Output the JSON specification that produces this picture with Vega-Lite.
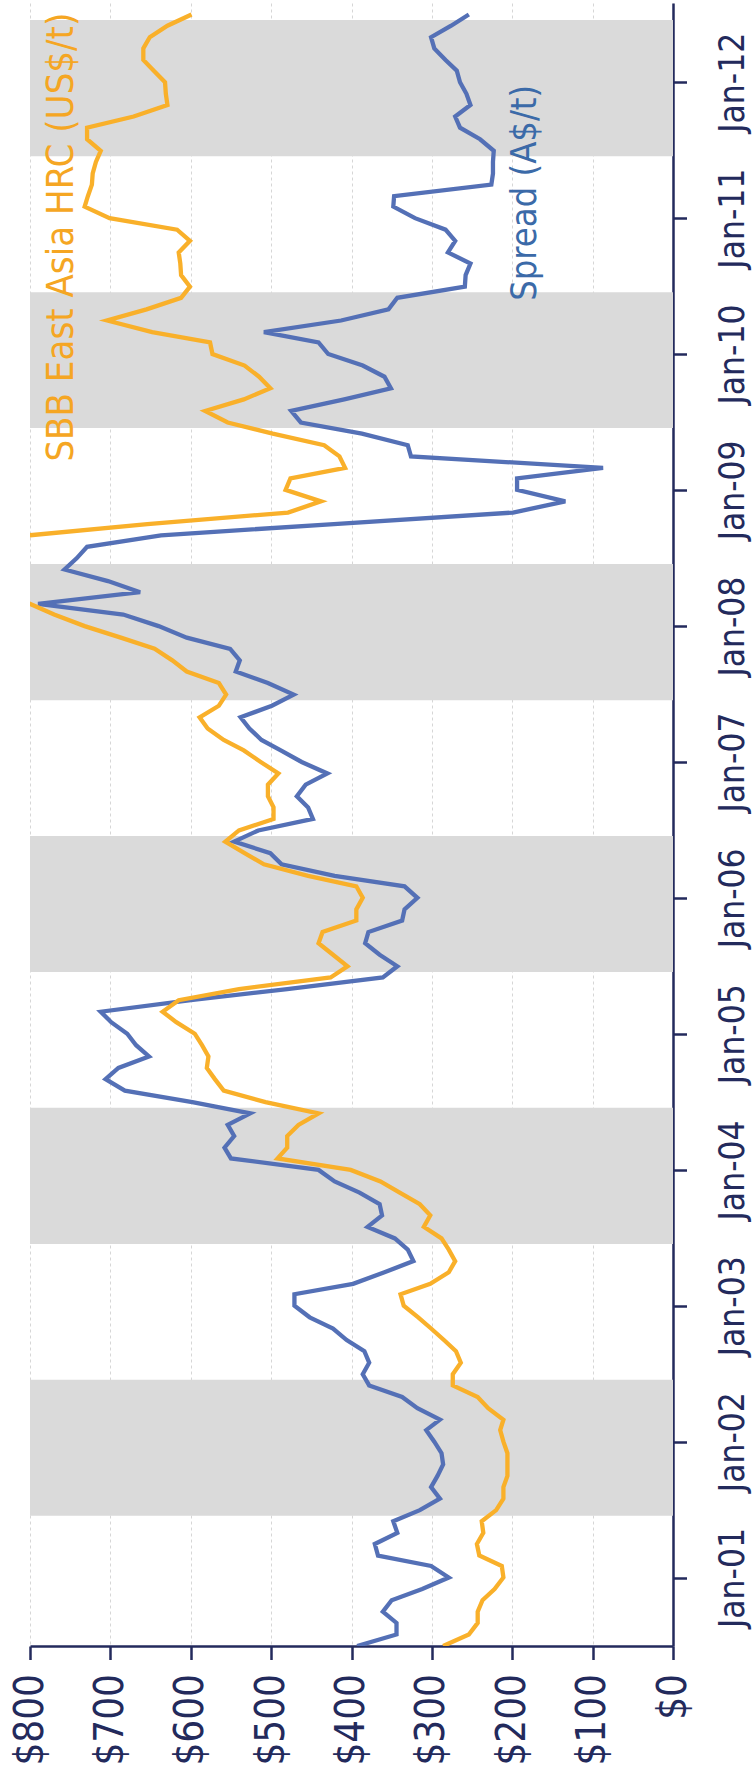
{
  "$schema": "https://vega.github.io/schema/vega-lite/v6.json",
  "width": 643,
  "height": 1643,
  "autosize": {"type": "none"},
  "padding": {"left": 30, "top": 3, "right": 79, "bottom": 128},
  "background": "white",
  "config": {"view": {"stroke": null}, "font": "DejaVu Sans Condensed, Liberation Sans, sans-serif"},
  "datasets": {
    "bands": [
      {"s": "2001/06/16", "e": "2002/06/16"},
      {"s": "2003/06/16", "e": "2004/06/16"},
      {"s": "2005/06/16", "e": "2006/06/16"},
      {"s": "2007/06/16", "e": "2008/06/16"},
      {"s": "2009/06/16", "e": "2010/06/16"},
      {"s": "2011/06/16", "e": "2012/06/16"}
    ],
    "m": [
      {"d": "2000/07/01", "s": 393, "h": 286},
      {"d": "2000/08/01", "s": 344, "h": 254},
      {"d": "2000/09/01", "s": 344, "h": 243},
      {"d": "2000/10/01", "s": 361, "h": 243},
      {"d": "2000/11/01", "s": 350, "h": 237},
      {"d": "2000/12/01", "s": 312, "h": 222},
      {"d": "2001/01/01", "s": 279, "h": 211},
      {"d": "2001/02/01", "s": 301, "h": 213},
      {"d": "2001/03/01", "s": 367, "h": 241},
      {"d": "2001/04/01", "s": 371, "h": 244},
      {"d": "2001/05/01", "s": 343, "h": 236},
      {"d": "2001/06/01", "s": 348, "h": 238},
      {"d": "2001/07/01", "s": 315, "h": 220},
      {"d": "2001/08/01", "s": 290, "h": 211},
      {"d": "2001/09/01", "s": 301, "h": 211},
      {"d": "2001/10/01", "s": 293, "h": 206},
      {"d": "2001/11/01", "s": 286, "h": 206},
      {"d": "2001/12/01", "s": 288, "h": 206},
      {"d": "2002/01/01", "s": 297, "h": 211},
      {"d": "2002/02/01", "s": 307, "h": 215},
      {"d": "2002/03/01", "s": 290, "h": 211},
      {"d": "2002/04/01", "s": 318, "h": 230},
      {"d": "2002/05/01", "s": 337, "h": 243},
      {"d": "2002/06/01", "s": 378, "h": 274},
      {"d": "2002/07/01", "s": 386, "h": 274},
      {"d": "2002/08/01", "s": 378, "h": 264},
      {"d": "2002/09/01", "s": 384, "h": 270},
      {"d": "2002/10/01", "s": 406, "h": 285},
      {"d": "2002/11/01", "s": 423, "h": 301},
      {"d": "2002/12/01", "s": 452, "h": 317},
      {"d": "2003/01/01", "s": 471, "h": 335},
      {"d": "2003/02/01", "s": 471, "h": 339},
      {"d": "2003/03/01", "s": 398, "h": 302},
      {"d": "2003/04/01", "s": 359, "h": 279},
      {"d": "2003/05/01", "s": 323, "h": 271},
      {"d": "2003/06/01", "s": 330, "h": 279},
      {"d": "2003/07/01", "s": 346, "h": 288},
      {"d": "2003/08/01", "s": 380, "h": 310},
      {"d": "2003/09/01", "s": 362, "h": 302},
      {"d": "2003/10/01", "s": 365, "h": 315},
      {"d": "2003/11/01", "s": 390, "h": 340},
      {"d": "2003/12/01", "s": 421, "h": 364},
      {"d": "2004/01/01", "s": 441, "h": 401},
      {"d": "2004/02/01", "s": 550, "h": 492},
      {"d": "2004/03/01", "s": 558, "h": 480},
      {"d": "2004/04/01", "s": 546, "h": 480},
      {"d": "2004/05/01", "s": 554, "h": 466},
      {"d": "2004/06/01", "s": 526, "h": 441},
      {"d": "2004/07/01", "s": 598, "h": 507},
      {"d": "2004/08/01", "s": 682, "h": 559},
      {"d": "2004/09/01", "s": 706, "h": 570},
      {"d": "2004/10/01", "s": 690, "h": 580},
      {"d": "2004/11/01", "s": 652, "h": 578},
      {"d": "2004/12/01", "s": 668, "h": 586},
      {"d": "2005/01/01", "s": 679, "h": 595},
      {"d": "2005/02/01", "s": 699, "h": 618},
      {"d": "2005/03/01", "s": 712, "h": 635},
      {"d": "2005/04/01", "s": 600, "h": 615},
      {"d": "2005/05/01", "s": 480, "h": 540},
      {"d": "2005/06/01", "s": 361, "h": 426},
      {"d": "2005/07/01", "s": 343, "h": 405},
      {"d": "2005/08/01", "s": 365, "h": 423},
      {"d": "2005/09/01", "s": 383, "h": 441},
      {"d": "2005/10/01", "s": 379, "h": 436},
      {"d": "2005/11/01", "s": 337, "h": 394},
      {"d": "2005/12/01", "s": 334, "h": 394},
      {"d": "2006/01/01", "s": 318, "h": 386},
      {"d": "2006/02/01", "s": 334, "h": 394},
      {"d": "2006/03/01", "s": 421, "h": 454},
      {"d": "2006/04/01", "s": 487, "h": 509},
      {"d": "2006/05/01", "s": 501, "h": 533},
      {"d": "2006/06/01", "s": 546, "h": 557},
      {"d": "2006/07/01", "s": 516, "h": 540},
      {"d": "2006/08/01", "s": 448, "h": 497},
      {"d": "2006/09/01", "s": 454, "h": 497},
      {"d": "2006/10/01", "s": 468, "h": 504},
      {"d": "2006/11/01", "s": 457, "h": 504},
      {"d": "2006/12/01", "s": 430, "h": 491},
      {"d": "2007/01/01", "s": 462, "h": 513},
      {"d": "2007/02/01", "s": 488, "h": 534},
      {"d": "2007/03/01", "s": 512, "h": 559},
      {"d": "2007/04/01", "s": 527, "h": 579},
      {"d": "2007/05/01", "s": 538, "h": 589},
      {"d": "2007/06/01", "s": 499, "h": 565},
      {"d": "2007/07/01", "s": 472, "h": 556},
      {"d": "2007/08/01", "s": 504, "h": 565},
      {"d": "2007/09/01", "s": 544, "h": 605},
      {"d": "2007/10/01", "s": 539, "h": 623},
      {"d": "2007/11/01", "s": 551, "h": 645},
      {"d": "2007/12/01", "s": 605, "h": 687},
      {"d": "2008/01/01", "s": 640, "h": 732},
      {"d": "2008/02/01", "s": 684, "h": 770},
      {"d": "2008/03/01", "s": 790, "h": 800},
      {"d": "2008/04/01", "s": 663, "h": 880},
      {"d": "2008/05/01", "s": 703, "h": 960},
      {"d": "2008/06/01", "s": 757, "h": 1030},
      {"d": "2008/07/01", "s": 742, "h": 1050},
      {"d": "2008/08/01", "s": 729, "h": 980},
      {"d": "2008/09/01", "s": 637, "h": 800},
      {"d": "2008/10/01", "s": 422, "h": 654},
      {"d": "2008/11/01", "s": 199, "h": 479},
      {"d": "2008/12/01", "s": 134, "h": 438},
      {"d": "2009/01/01", "s": 194, "h": 482},
      {"d": "2009/02/01", "s": 194, "h": 476},
      {"d": "2009/03/01", "s": 87, "h": 408},
      {"d": "2009/04/01", "s": 326, "h": 415},
      {"d": "2009/05/01", "s": 330, "h": 434},
      {"d": "2009/06/01", "s": 387, "h": 498},
      {"d": "2009/07/01", "s": 463, "h": 554},
      {"d": "2009/08/01", "s": 475, "h": 582},
      {"d": "2009/09/01", "s": 409, "h": 534},
      {"d": "2009/10/01", "s": 351, "h": 501},
      {"d": "2009/11/01", "s": 359, "h": 515},
      {"d": "2009/12/01", "s": 386, "h": 533},
      {"d": "2010/01/01", "s": 429, "h": 573},
      {"d": "2010/02/01", "s": 441, "h": 576},
      {"d": "2010/03/01", "s": 509, "h": 648},
      {"d": "2010/04/01", "s": 413, "h": 704},
      {"d": "2010/05/01", "s": 354, "h": 655},
      {"d": "2010/06/01", "s": 343, "h": 612},
      {"d": "2010/07/01", "s": 259, "h": 601},
      {"d": "2010/08/01", "s": 258, "h": 612},
      {"d": "2010/09/01", "s": 252, "h": 613},
      {"d": "2010/10/01", "s": 280, "h": 615},
      {"d": "2010/11/01", "s": 271, "h": 601},
      {"d": "2010/12/01", "s": 283, "h": 617},
      {"d": "2011/01/01", "s": 321, "h": 701},
      {"d": "2011/02/01", "s": 348, "h": 732},
      {"d": "2011/03/01", "s": 347, "h": 728},
      {"d": "2011/04/01", "s": 226, "h": 723},
      {"d": "2011/05/01", "s": 224, "h": 722},
      {"d": "2011/06/01", "s": 224, "h": 718},
      {"d": "2011/07/01", "s": 223, "h": 712},
      {"d": "2011/08/01", "s": 240, "h": 729},
      {"d": "2011/09/01", "s": 265, "h": 729},
      {"d": "2011/10/01", "s": 271, "h": 671},
      {"d": "2011/11/01", "s": 252, "h": 629},
      {"d": "2011/12/01", "s": 257, "h": 631},
      {"d": "2012/01/01", "s": 265, "h": 632},
      {"d": "2012/02/01", "s": 269, "h": 646},
      {"d": "2012/03/01", "s": 283, "h": 659},
      {"d": "2012/04/01", "s": 297, "h": 659},
      {"d": "2012/05/01", "s": 301, "h": 651},
      {"d": "2012/06/01", "s": 276, "h": 629},
      {"d": "2012/07/01", "s": 254, "h": 599}
    ]
  },
  "layer": [
    {
      "data": {"name": "bands"},
      "mark": {"type": "rect", "color": "#dadada"},
      "encoding": {
        "y": {
          "field": "s",
          "type": "temporal",
          "scale": {"domain": [{"year": 2000, "month": 7, "date": 1}, {"year": 2012, "month": 8, "date": 1}]},
          "axis": {
            "orient": "right",
            "title": null,
            "values": [
              {"year": 2001, "month": 1, "date": 1}, {"year": 2002, "month": 1, "date": 1},
              {"year": 2003, "month": 1, "date": 1}, {"year": 2004, "month": 1, "date": 1},
              {"year": 2005, "month": 1, "date": 1}, {"year": 2006, "month": 1, "date": 1},
              {"year": 2007, "month": 1, "date": 1}, {"year": 2008, "month": 1, "date": 1},
              {"year": 2009, "month": 1, "date": 1}, {"year": 2010, "month": 1, "date": 1},
              {"year": 2011, "month": 1, "date": 1}, {"year": 2012, "month": 1, "date": 1}
            ],
            "format": "%b-%y",
            "grid": false,
            "labelAngle": 270,
            "labelAlign": "center",
            "labelBaseline": "top",
            "labelPadding": 29,
            "labelFont": "DejaVu Sans Condensed, Liberation Sans, sans-serif",
            "labelFontSize": 35,
            "labelColor": "#232a5c",
            "labelOverlap": false,
            "labelFlush": false,
            "tickSize": 13.5,
            "tickWidth": 2.5,
            "tickColor": "#232a5c",
            "domainColor": "#232a5c",
            "domainWidth": 2.5
          }
        },
        "y2": {"field": "e"},
        "x": {
          "datum": 800,
          "type": "quantitative",
          "scale": {"domain": [0, 800], "reverse": true, "nice": false, "zero": true},
          "axis": {
            "orient": "bottom",
            "title": null,
            "values": [0, 100, 200, 300, 400, 500, 600, 700, 800],
            "format": "$.0f",
            "grid": true,
            "gridColor": "#d6d6d6",
            "gridDash": [3, 3],
            "gridWidth": 1,
            "labelAngle": 270,
            "labelAlign": "right",
            "labelBaseline": "middle",
            "labelPadding": 14,
            "labelFont": "DejaVu Sans Condensed, Liberation Sans, sans-serif",
            "labelFontSize": 40,
            "labelColor": "#232a5c",
            "labelOverlap": false,
            "labelFlush": false,
            "tickSize": 13.5,
            "tickWidth": 2.5,
            "tickColor": "#232a5c",
            "domainColor": "#232a5c",
            "domainWidth": 2.5
          }
        },
        "x2": {"datum": 0}
      }
    },
    {
      "data": {"name": "m"},
      "mark": {"type": "line", "color": "#5470b6", "strokeWidth": 4.3, "clip": true},
      "encoding": {
        "y": {"field": "d", "type": "temporal"},
        "x": {"field": "s", "type": "quantitative"},
        "order": {"field": "d", "type": "temporal"}
      }
    },
    {
      "data": {"name": "m"},
      "mark": {"type": "line", "color": "#f9b02a", "strokeWidth": 4.3, "clip": true},
      "encoding": {
        "y": {"field": "d", "type": "temporal"},
        "x": {"field": "h", "type": "quantitative"},
        "order": {"field": "d", "type": "temporal"}
      }
    },
    {
      "data": {"values": [{"d": "2010/11/11", "v": 747, "t": "SBB East Asia HRC (US$/t)"}]},
      "mark": {"type": "text", "angle": 270, "align": "center", "baseline": "alphabetic", "font": "DejaVu Sans Condensed, Liberation Sans, sans-serif", "fontSize": 38, "color": "#f5a623"},
      "encoding": {
        "y": {"field": "d", "type": "temporal"},
        "x": {"field": "v", "type": "quantitative"},
        "text": {"field": "t"}
      }
    },
    {
      "data": {"values": [{"d": "2011/03/10", "v": 171, "t": "Spread (A$/t)"}]},
      "mark": {"type": "text", "angle": 270, "align": "center", "baseline": "alphabetic", "font": "DejaVu Sans Condensed, Liberation Sans, sans-serif", "fontSize": 36, "color": "#3b6aa8"},
      "encoding": {
        "y": {"field": "d", "type": "temporal"},
        "x": {"field": "v", "type": "quantitative"},
        "text": {"field": "t"}
      }
    }
  ]
}
